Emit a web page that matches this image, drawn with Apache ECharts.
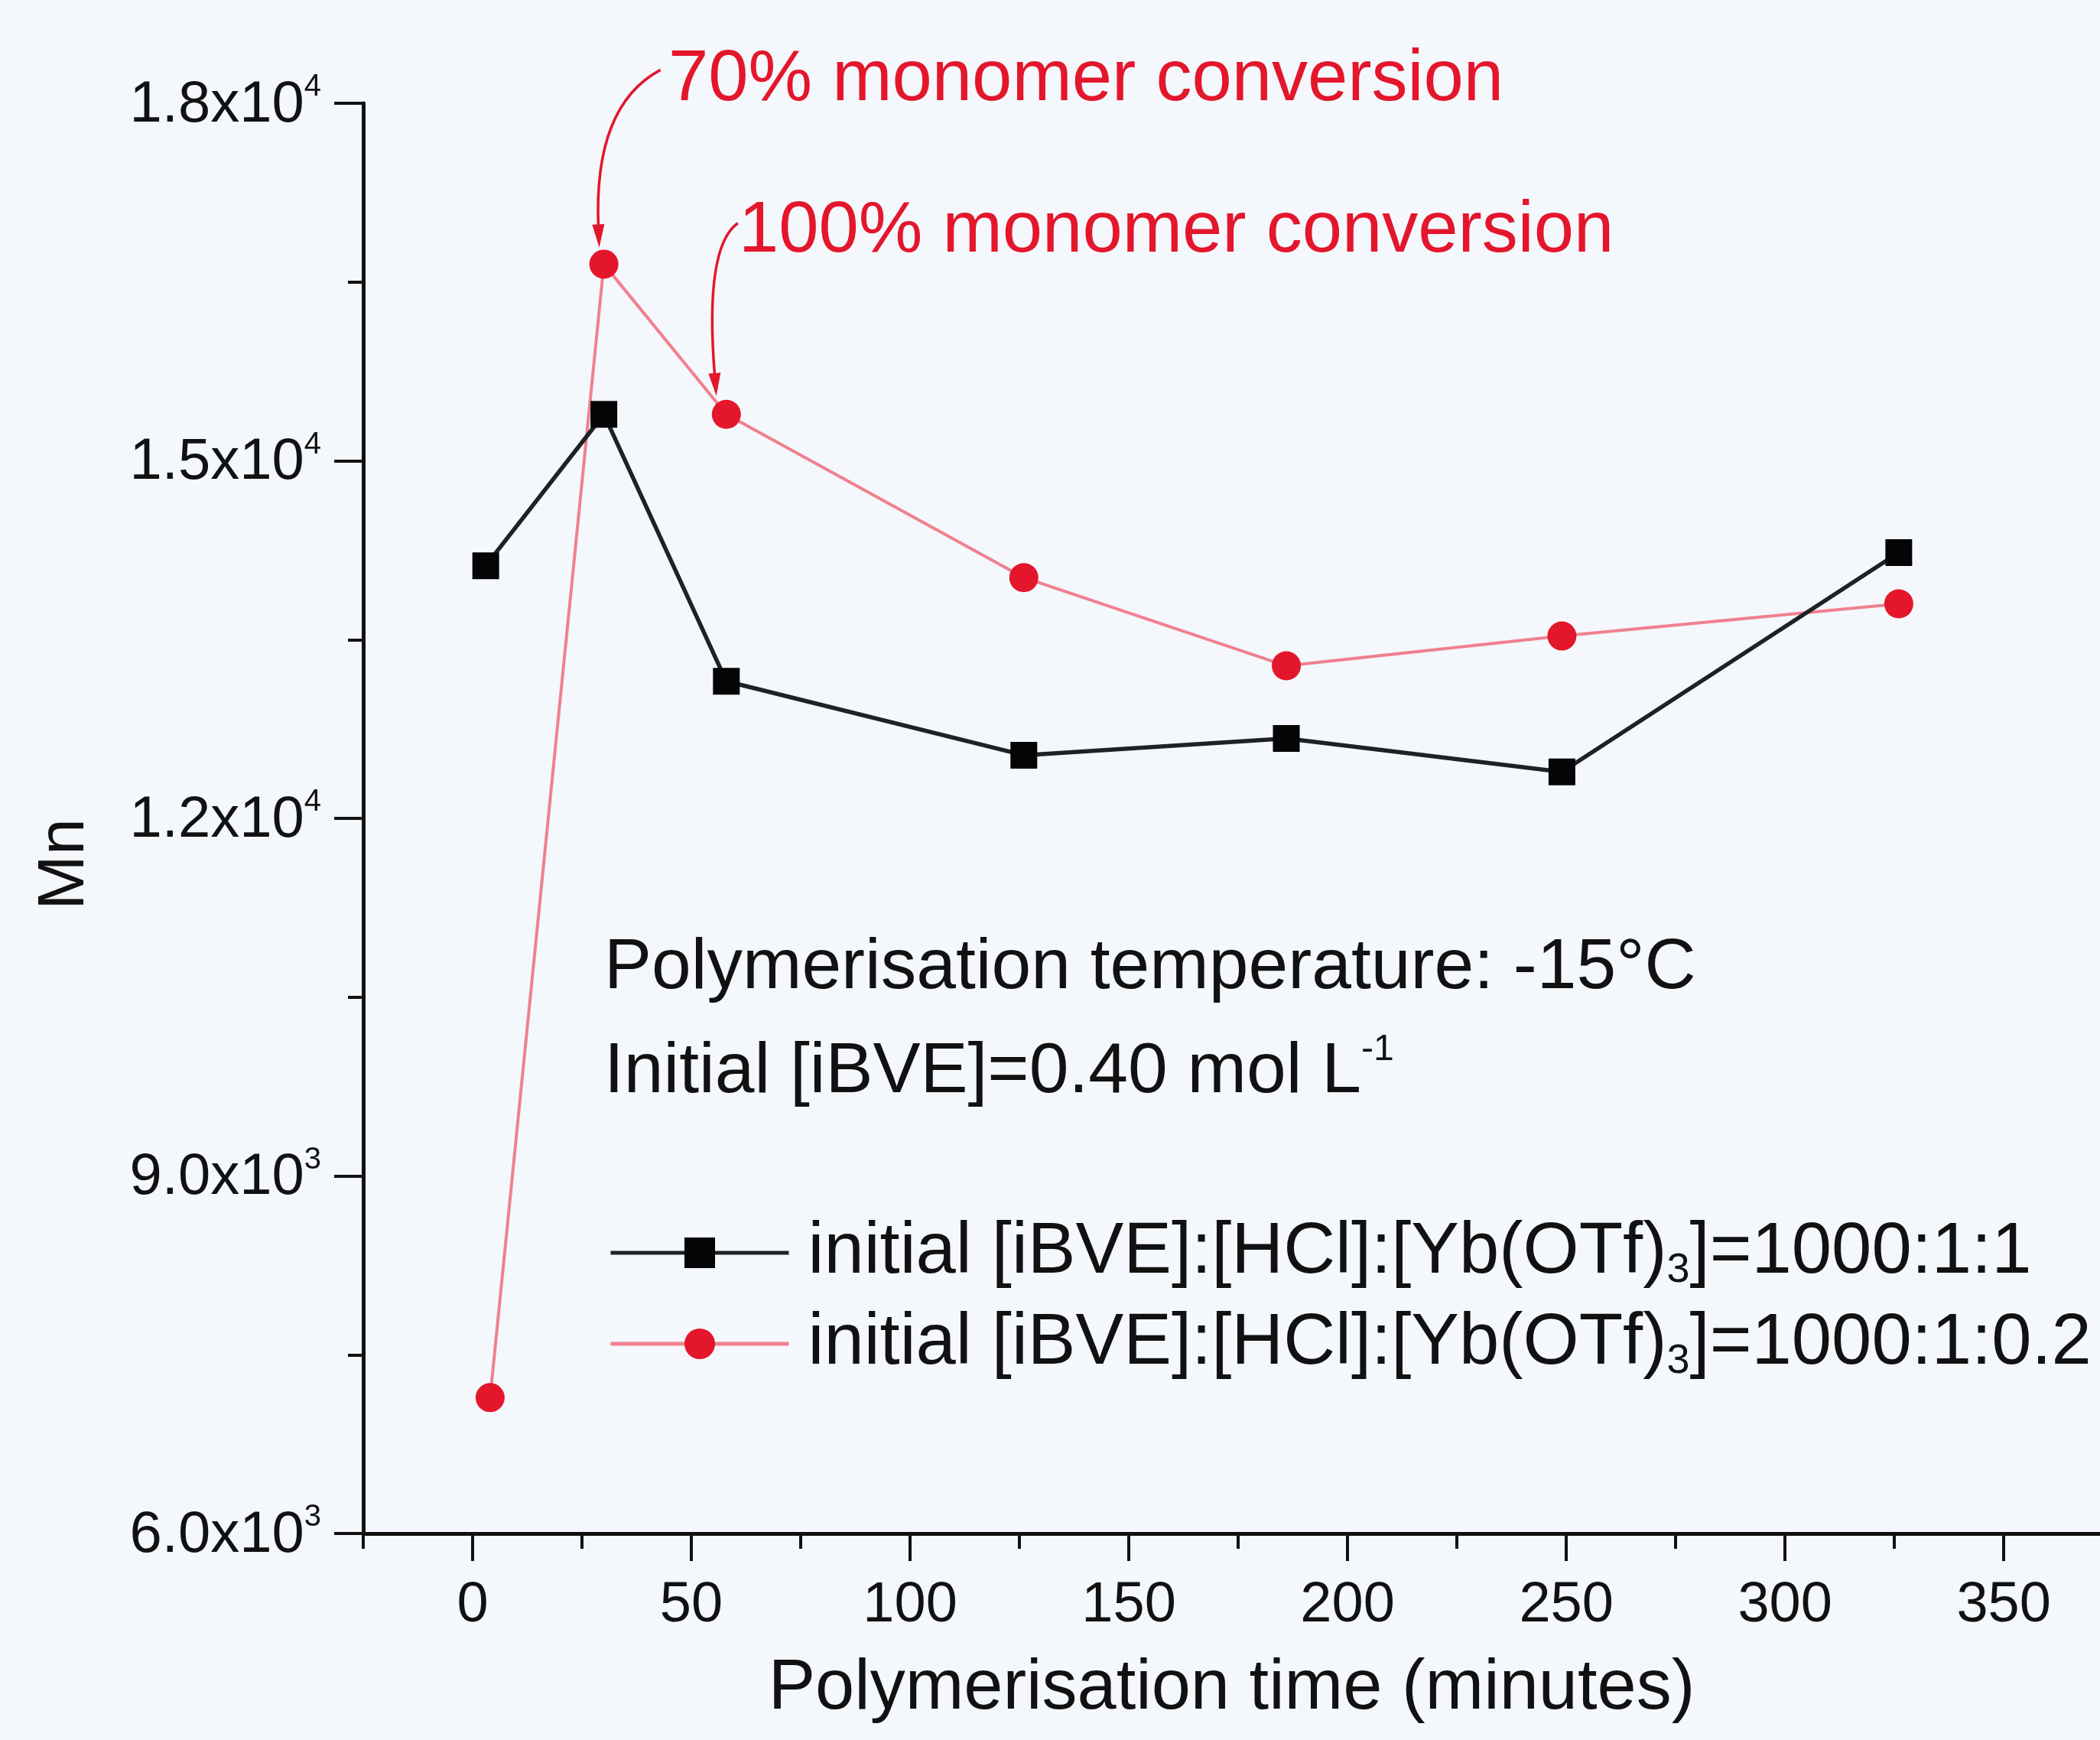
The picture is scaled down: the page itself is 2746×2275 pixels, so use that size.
<!DOCTYPE html>
<html><head><meta charset="utf-8">
<script src="https://cdn.jsdelivr.net/npm/echarts@6/dist/echarts.min.js"></script>
<style>html,body{margin:0;padding:0;background:#f3f6fa}#c{width:2746px;height:2275px}</style>
</head><body><div id="c"></div>
<script>
// ---- data ----
const timesBlack = [3, 30, 58, 126, 186, 249, 326];
const mnBlack = [14120, 15390, 13150, 12530, 12670, 12390, 14230];
const timesRed = [4, 30, 58, 126, 186, 249, 326];
const mnRed = [7140, 16650, 15390, 14020, 13280, 13530, 13800];
const nameBlack = 'initial [iBVE]:[HCl]:[Yb(OTf)3]=1000:1:1';
const nameRed = 'initial [iBVE]:[HCl]:[Yb(OTf)3]=1000:1:0.2';
const xMajorTicks = [0, 50, 100, 150, 200, 250, 300, 350];
const xMinorTicks = [-25, 25, 75, 125, 175, 225, 275, 325];
const yTicks = [6000, 9000, 12000, 15000, 18000];
const yTickMantissas = ['6.0', '9.0', '1.2', '1.5', '1.8'];
const yTickExponents = ['3', '3', '4', '4', '4'];
const xAxisTitle = 'Polymerisation time (minutes)';
const yAxisTitle = 'Mn';
const note1 = 'Polymerisation temperature: -15°C';
const note2 = 'Initial [iBVE]=0.40 mol L';
const note2Sup = '-1';
const arrowNote70 = '70% monomer conversion';
const arrowNote100 = '100% monomer conversion';

const FONT = "'Liberation Sans', Arial, Helvetica, sans-serif";
const RED = '#e3162c';
const RED_LINE = '#f0808f';
const chart = echarts.init(document.getElementById('c'), null, {renderer: 'canvas'});

function zip(xs, ys) { return xs.map((x, i) => [x, ys[i]]); }
function legendFmt(name) {
  const parts = name.split('(OTf)3');
  return '{t|' + parts[0] + '(OTf)}{sub|3}{t|' + parts[1] + '}';
}

const option = {
  backgroundColor: '#f4f7fb',
  animation: false,
  textStyle: {fontFamily: FONT},
  grid: {left: 475, right: 0, top: 135, bottom: 270, containLabel: false, outerBoundsMode: 'none'},
  xAxis: [{
    type: 'value', min: -25, max: 372, position: 'bottom',
    name: xAxisTitle, nameLocation: 'middle', nameGap: 158, nameMoveOverlap: false,
    nameTextStyle: {fontSize: 92, color: '#111', fontFamily: FONT},
    axisLine: {show: true, onZero: false, lineStyle: {color: '#111', width: 5}},
    axisTick: {show: true, length: 36, lineStyle: {color: '#111', width: 4}, customValues: xMajorTicks},
    axisLabel: {show: true, fontSize: 74, color: '#111', margin: 58, fontFamily: FONT, customValues: xMajorTicks},
    splitLine: {show: false}
  }, {
    type: 'value', min: -25, max: 372, position: 'bottom', offset: 0,
    axisLine: {show: false, onZero: false},
    axisTick: {show: true, length: 20, lineStyle: {color: '#111', width: 4}, customValues: xMinorTicks},
    axisLabel: {show: false},
    splitLine: {show: false}
  }],
  yAxis: {
    type: 'value', min: 6000, max: 18000, interval: 3000,
    name: yAxisTitle, nameLocation: 'middle', nameGap: 347, nameMoveOverlap: false,
    nameTextStyle: {fontSize: 86, color: '#111', fontFamily: FONT, padding: [0, 120, 0, 0]},
    axisLine: {show: true, onZero: false, lineStyle: {color: '#111', width: 5}},
    axisTick: {show: true, length: 38, lineStyle: {color: '#111', width: 4}},
    minorTick: {show: true, splitNumber: 2, length: 20, lineStyle: {color: '#111', width: 4}},
    axisLabel: {
      margin: 55, color: '#111',
      formatter: v => { const i = yTicks.indexOf(v); return i < 0 ? '' : '{b|' + yTickMantissas[i] + 'x10}{s|' + yTickExponents[i] + '}'; },
      rich: {
        b: {fontSize: 76, lineHeight: 82, verticalAlign: 'bottom', fontFamily: FONT, color: '#111'},
        s: {fontSize: 40, lineHeight: 40, verticalAlign: 'top', fontFamily: FONT, color: '#111'}
      }
    },
    splitLine: {show: false}
  },
  legend: {
    orient: 'vertical', left: 791, top: 1586,
    data: [nameBlack, nameRed],
    itemWidth: 233, itemHeight: 50, itemGap: 22,
    lineStyle: {width: 5},
    formatter: legendFmt,
    textStyle: {
      padding: [0, 0, 0, 20],
      rich: {
        t: {fontSize: 94, lineHeight: 100, verticalAlign: 'middle', fontFamily: FONT, color: '#111'},
        sub: {fontSize: 54, lineHeight: 40, verticalAlign: 'bottom', fontFamily: FONT, color: '#111'}
      }
    }
  },
  series: [{
    name: nameRed, type: 'line', data: zip(timesRed, mnRed),
    symbol: 'circle', symbolSize: 38,
    itemStyle: {color: RED},
    lineStyle: {color: RED_LINE, width: 4},
    z: 2
  }, {
    name: nameBlack, type: 'line', data: zip(timesBlack, mnBlack),
    symbol: 'rect', symbolSize: 35,
    itemStyle: {color: '#050505'},
    lineStyle: {color: '#1e2226', width: 5.5},
    z: 3
  }]
};
chart.setOption(option);

// ---- annotations anchored to data points ----
function px(x, y) { return chart.convertToPixel({xAxisIndex: 0, yAxisIndex: 0}, [x, y]); }
function arrowGraphics(tip, start, ctrl) {
  const dx = tip[0] - ctrl[0], dy = tip[1] - ctrl[1];
  const len = Math.hypot(dx, dy), ux = dx / len, uy = dy / len;
  const L = 30, W = 8;
  const bx = tip[0] - ux * L, by = tip[1] - uy * L;
  return [{
    type: 'bezierCurve', z: 10,
    shape: {x1: start[0], y1: start[1], x2: bx + ux * 4, y2: by + uy * 4, cpx1: ctrl[0], cpy1: ctrl[1]},
    style: {stroke: RED, lineWidth: 3.5, fill: null}
  }, {
    type: 'polygon', z: 10,
    shape: {points: [[tip[0], tip[1]], [bx - uy * W, by + ux * W], [bx + uy * W, by - ux * W]]},
    style: {fill: RED}
  }];
}
const p70 = px(timesRed[1], mnRed[1]);
const p100 = px(timesRed[2], mnRed[2]);
const tip70 = [p70[0] - 6, p70[1] - 22];
const tip100 = [p100[0] - 13, p100[1] - 24];
const graphics = [].concat(
  arrowGraphics(tip70, [tip70[0] + 80, tip70[1] - 232], [tip70[0] - 8, tip70[1] - 185]),
  arrowGraphics(tip100, [tip100[0] + 28, tip100[1] - 226], [tip100[0] - 16, tip100[1] - 195]),
  [
    {type: 'text', x: 874, y: 105, z: 10, style: {text: arrowNote70, fill: RED, fontSize: 94, fontFamily: FONT, verticalAlign: 'middle'}},
    {type: 'text', x: 966, y: 303, z: 10, style: {text: arrowNote100, fill: RED, fontSize: 94, fontFamily: FONT, verticalAlign: 'middle'}},
    {type: 'text', x: 790, y: 1266, z: 10, style: {text: note1, fill: '#111', fontSize: 93, fontFamily: FONT, verticalAlign: 'middle'}},
    {type: 'text', x: 790, y: 1399, z: 10, style: {
      text: '{n|' + note2 + '}{s|' + note2Sup + '}', verticalAlign: 'middle',
      rich: {
        n: {fontSize: 93, lineHeight: 100, verticalAlign: 'bottom', fontFamily: FONT, fill: '#111', color: '#111'},
        s: {fontSize: 48, lineHeight: 46, verticalAlign: 'top', fontFamily: FONT, fill: '#111', color: '#111'}
      }
    }}
  ]
);
chart.setOption({graphic: graphics});
</script>
</body></html>
